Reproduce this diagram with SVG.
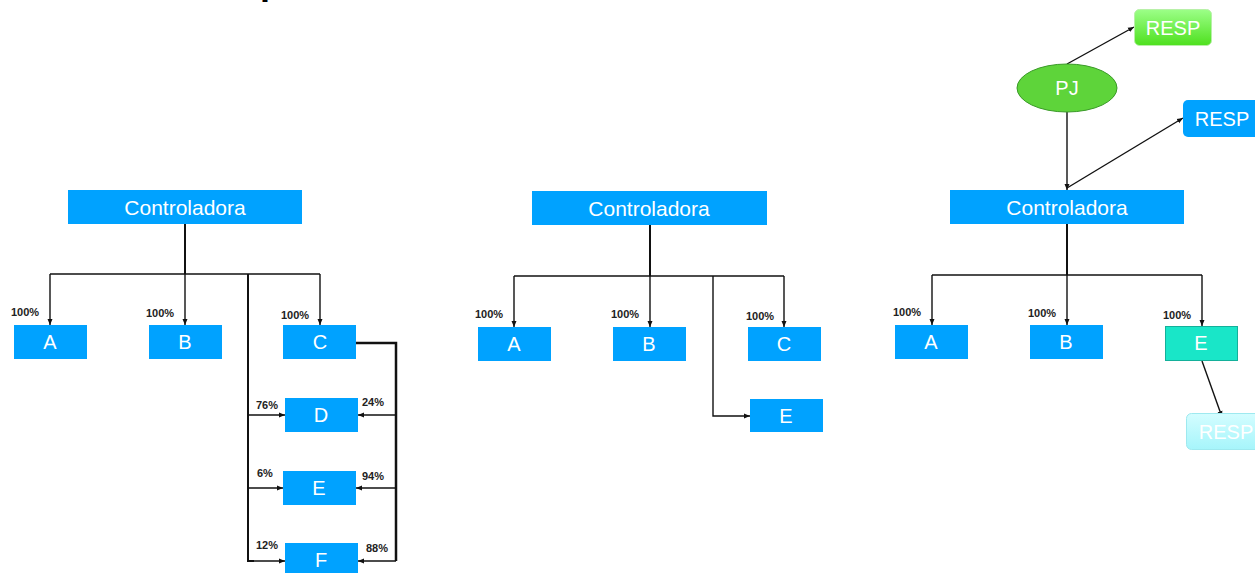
<svg xmlns="http://www.w3.org/2000/svg" width="1255" height="573" viewBox="0 0 1255 573">
<style>
.box{fill:#00a2ff}
.t{font-family:"Liberation Sans",Arial,sans-serif;fill:#fff;text-anchor:middle}
.tb{font-size:21px}
.tl{font-size:20px}
.p{font-family:"Liberation Sans",Arial,sans-serif;font-weight:bold;font-size:11px;fill:#222}
.c{fill:none;stroke:#111;stroke-width:1.4}
.ca{fill:none;stroke:#111;stroke-width:1.4;marker-end:url(#ah)}
.ck{fill:none;stroke:#111;stroke-width:2}
</style>
<defs>
<marker id="ah" markerWidth="6" markerHeight="6" refX="6" refY="3" orient="auto" markerUnits="userSpaceOnUse">
<path d="M0,0.5 L6,3 L0,5.5 Z" fill="#111"/>
</marker>
<linearGradient id="gGreen" x1="0" y1="0" x2="0" y2="1">
<stop offset="0" stop-color="#9cff88"/>
<stop offset="1" stop-color="#4ee01e"/>
</linearGradient>
<linearGradient id="gCyan" x1="0" y1="0" x2="0" y2="1">
<stop offset="0" stop-color="#d4fdff"/>
<stop offset="1" stop-color="#a6f5fb"/>
</linearGradient>
</defs>
<rect width="1255" height="573" fill="#fff"/>
<text x="260" y="-6" font-family="Liberation Sans,Arial,sans-serif" font-weight="bold" font-size="36" fill="#000">p</text>

<g id="connectors">
<path class="ck" d="M185 224 V274"/>
<path class="c" d="M50 274 H320"/>
<path class="ca" d="M50 274 V325"/>
<path class="ca" d="M185 274 V325"/>
<path class="ca" d="M320 274 V325"/>
<path class="ck" d="M248 274 V561 H254"/>
<path class="c" d="M356 343 H396 V561" style="stroke-width:2.5"/>
<path class="ca" d="M248 415 H285"/>
<path class="ca" d="M248 488 H283"/>
<path class="ca" d="M248 561 H285"/>
<path class="ca" d="M396 415 H358"/>
<path class="ca" d="M396 488 H356"/>
<path class="ca" d="M396 561 H358"/>
<path class="ck" d="M650 225 V276"/>
<path class="c" d="M514 276 H784"/>
<path class="ca" d="M514 276 V327"/>
<path class="ca" d="M650 276 V327"/>
<path class="ca" d="M784 276 V327"/>
<path class="ca" d="M713 276 V416 H750"/>
<path class="ck" d="M1067 224 V275"/>
<path class="c" d="M932 275 H1202"/>
<path class="ca" d="M932 275 V325"/>
<path class="ca" d="M1067 275 V325"/>
<path class="ca" d="M1202 275 V326"/>
<path class="ca" d="M1202 361 L1222 417"/>
<path class="ca" d="M1067 64 L1134 27"/>
<path class="ca" d="M1067 112 V190"/>
<path class="ca" d="M1067 188 L1183 118"/>
</g>

<g id="ctrl1"><rect class="box" x="68" y="190" width="234" height="34"/><text class="t tb" x="185" y="215">Controladora</text></g>
<g id="l-A"><rect class="box" x="14" y="325" width="73" height="34"/><text class="t tl" x="50" y="349">A</text><text class="p" x="11" y="316">100%</text></g>
<g id="l-B"><rect class="box" x="149" y="325" width="73" height="34"/><text class="t tl" x="185" y="349">B</text><text class="p" x="146" y="317">100%</text></g>
<g id="l-C"><rect class="box" x="283" y="325" width="73" height="34"/><text class="t tl" x="320" y="349">C</text><text class="p" x="281" y="319">100%</text></g>
<g id="l-D"><rect class="box" x="285" y="398" width="73" height="34"/><text class="t tl" x="321" y="422">D</text><text class="p" x="256" y="409">76%</text><text class="p" x="362" y="406">24%</text></g>
<g id="l-E"><rect class="box" x="283" y="471" width="73" height="34"/><text class="t tl" x="319" y="495">E</text><text class="p" x="257" y="477">6%</text><text class="p" x="362" y="480">94%</text></g>
<g id="l-F"><rect class="box" x="285" y="543" width="73" height="34"/><text class="t tl" x="321" y="567">F</text><text class="p" x="256" y="549">12%</text><text class="p" x="366" y="552">88%</text></g>

<g id="ctrl2"><rect class="box" x="532" y="191" width="235" height="34"/><text class="t tb" x="649" y="216">Controladora</text></g>
<g id="m-A"><rect class="box" x="478" y="327" width="73" height="34"/><text class="t tl" x="514" y="351">A</text><text class="p" x="475" y="318">100%</text></g>
<g id="m-B"><rect class="box" x="613" y="327" width="73" height="34"/><text class="t tl" x="649" y="351">B</text><text class="p" x="611" y="318">100%</text></g>
<g id="m-C"><rect class="box" x="748" y="327" width="73" height="34"/><text class="t tl" x="784" y="351">C</text><text class="p" x="746" y="320">100%</text></g>
<g id="m-E"><rect class="box" x="750" y="399" width="73" height="33"/><text class="t tl" x="786" y="423">E</text></g>

<g id="ctrl3"><rect class="box" x="950" y="190" width="234" height="34"/><text class="t tb" x="1067" y="215">Controladora</text></g>
<g id="r-A"><rect class="box" x="895" y="325" width="73" height="34"/><text class="t tl" x="931" y="349">A</text><text class="p" x="893" y="316">100%</text></g>
<g id="r-B"><rect class="box" x="1030" y="325" width="73" height="34"/><text class="t tl" x="1066" y="349">B</text><text class="p" x="1028" y="317">100%</text></g>
<g id="r-E"><rect x="1165.5" y="326.5" width="72" height="34" fill="#19e6c8" stroke="#14b09a" stroke-width="1"/><text class="t tl" x="1201" y="350">E</text><text class="p" x="1163" y="319">100%</text></g>
<g id="r-resp3"><rect x="1186.5" y="413.5" width="80" height="36" rx="5" fill="url(#gCyan)" stroke="#9ee9ef" stroke-width="1"/><text class="t tl" x="1226" y="439">RESP</text></g>
<g id="pj"><ellipse cx="1067" cy="88" rx="50" ry="24" fill="#5ed43a" stroke="#3a9a28" stroke-width="1"/><text class="t tl" x="1067" y="95">PJ</text></g>
<g id="resp1"><rect x="1134.5" y="9.5" width="77" height="36" rx="5" fill="url(#gGreen)" stroke="#b8f0a8" stroke-width="1"/><text class="t tl" x="1173" y="35">RESP</text></g>
<g id="resp2"><rect x="1183" y="100" width="80" height="37" rx="5" fill="#00a2ff"/><text class="t tl" x="1222" y="126">RESP</text></g>
</svg>
